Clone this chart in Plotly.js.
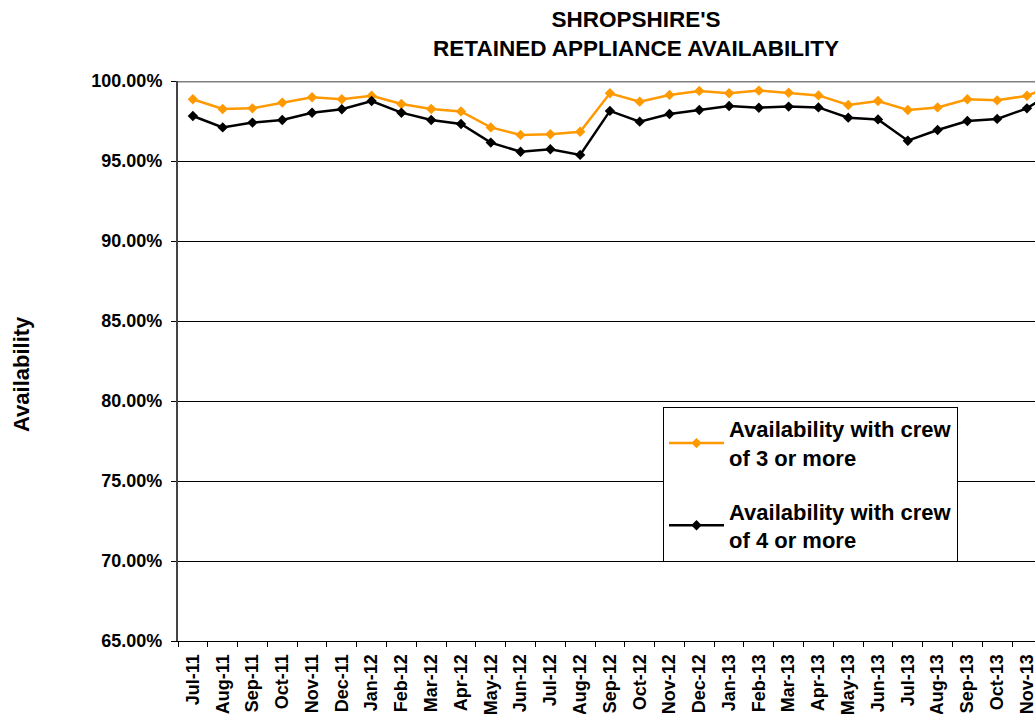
<!DOCTYPE html>
<html>
<head>
<meta charset="utf-8">
<script src="https://cdn.plot.ly/plotly-3.0.1.min.js"></script>
<style>html,body{margin:0;padding:0;background:#fff;}#chart{width:1035px;height:714px;}</style>
</head>
<body>
<div id="chart"></div>
<script>
const months = ["Jul-11","Aug-11","Sep-11","Oct-11","Nov-11","Dec-11","Jan-12","Feb-12","Mar-12","Apr-12","May-12","Jun-12","Jul-12","Aug-12","Sep-12","Oct-12","Nov-12","Dec-12","Jan-13","Feb-13","Mar-13","Apr-13","May-13","Jun-13","Jul-13","Aug-13","Sep-13","Oct-13","Nov-13","Dec-13"];
const crew3 = [98.86,98.25,98.29,98.65,98.98,98.86,99.08,98.56,98.25,98.10,97.10,96.63,96.67,96.83,99.23,98.71,99.13,99.38,99.23,99.40,99.27,99.10,98.50,98.75,98.19,98.35,98.86,98.79,99.08,99.80];
const crew4 = [97.81,97.10,97.40,97.56,98.02,98.23,98.75,98.02,97.56,97.31,96.15,95.58,95.73,95.38,98.13,97.46,97.94,98.19,98.44,98.33,98.40,98.35,97.71,97.60,96.27,96.94,97.50,97.63,98.29,99.50];
const seriesNames = ["Availability with crew<br>of 3 or more","Availability with crew<br>of 4 or more"];
const yTicks = [65,70,75,80,85,90,95,100];
const yTickLabels = ["65.00%","70.00%","75.00%","80.00%","85.00%","90.00%","95.00%","100.00%"];
const yTitle = "Availability";

const FONT = "Arial, 'Liberation Sans', sans-serif";

const traces = [
  {x: months, y: crew3, name: seriesNames[0], type: "scatter", mode: "lines+markers",
   line: {color: "#FF9900", width: 2.5}, marker: {symbol: "diamond", size: 8, color: "#FF9900"},
   legendgroup: "a", cliponaxis: true},
  {x: months, y: crew4, name: seriesNames[1], type: "scatter", mode: "lines+markers",
   line: {color: "#000000", width: 2.5}, marker: {symbol: "diamond", size: 8, color: "#000000"},
   legendgroup: "b", cliponaxis: true}
];

const layout = {
  width: 1035, height: 714,
  margin: {l: 178, r: 0, t: 81, b: 73, pad: 0},
  paper_bgcolor: "#fff", plot_bgcolor: "#fff",
  font: {family: FONT, color: "#000"},
  title: {text: "SHROPSHIRE'S<br>RETAINED APPLIANCE AVAILABILITY",
          font: {family: FONT, size: 22.5, weight: "bold", color: "#000"},
          x: 636/1035, xanchor: "center", xref: "container", y: 1 - 27/714, yanchor: "middle", yref: "container"},
  xaxis: {type: "category", range: [-0.5, 28.27], tickangle: -90, automargin: false,
          tickfont: {family: FONT, size: 18, weight: "bold", color: "#000"},
          ticks: "outside", ticklen: 5, tickcolor: "#000", tickson: "boundaries", ticklabelstandoff: 5,
          showline: true, linecolor: "#000", linewidth: 1, showgrid: false, zeroline: false,
          fixedrange: true},
  yaxis: {range: [65, 100], tickmode: "array", tickvals: yTicks, ticktext: yTickLabels, automargin: false,
          tickfont: {family: FONT, size: 18, weight: "bold", color: "#000"},
          ticks: "outside", ticklen: 5, tickcolor: "#000", ticklabelstandoff: 5,
          showline: true, linecolor: "#444", linewidth: 2,
          showgrid: true, gridcolor: "#000", gridwidth: 1, zeroline: false,
          fixedrange: true},
  annotations: [{text: yTitle, textangle: -90, xref: "paper", yref: "paper",
                 x: (22-178)/857, y: (641-374)/560, xanchor: "center", yanchor: "middle", showarrow: false,
                 font: {family: FONT, size: 22, weight: "bold", color: "#000"}}],
  shapes: [{type: "line", xref: "paper", x0: 0, x1: 1, yref: "y", y0: 100, y1: 100,
            line: {color: "#808080", width: 3}, layer: "above"}],
  showlegend: true,
  legend: {x: (663-178)/857, xanchor: "left", y: (641-407)/560, yanchor: "top",
           bgcolor: "#fff", bordercolor: "#000", borderwidth: 1,
           font: {family: FONT, size: 22, weight: "bold", color: "#000"},
           traceorder: "grouped", tracegroupgap: 22, itemwidth: 55},
  hovermode: false
};

Plotly.newPlot("chart", traces, layout, {displayModeBar: false, staticPlot: true});
</script>
</body>
</html>
